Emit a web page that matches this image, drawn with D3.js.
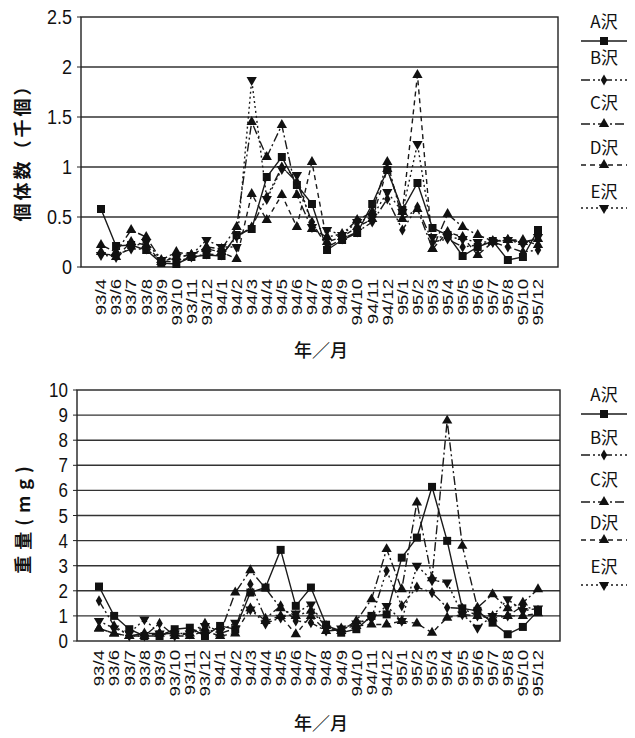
<!DOCTYPE html>
<html>
<head>
<meta charset="utf-8">
<script src="https://cdn.jsdelivr.net/npm/d3@7"></script>
<style>
  html, body { margin: 0; padding: 0; background: #fff; }
  svg { display: block; }
  text { font-family: "Liberation Sans", Arial, sans-serif; fill: #111; }
  .cjk { font-family: "Noto Sans CJK JP", "Noto Sans CJK SC", sans-serif; }
</style>
</head>
<body>
<svg id="chart" width="635" height="738"></svg>
<script>
// ---- data ----
const categories = ["93/4","93/6","93/7","93/8","93/9","93/10","93/11","93/12",
  "94/1","94/2","94/3","94/4","94/5","94/6","94/7","94/8","94/9","94/10","94/11","94/12",
  "95/1","95/2","95/3","95/4","95/5","95/6","95/7","95/8","95/10","95/12"];

const seriesNames = ["A沢","B沢","C沢","D沢","E沢"];

// 個体数 (千個)
const countA = [0.58,0.21,0.22,0.17,0.04,0.03,0.10,0.12,0.11,0.32,0.38,0.90,1.10,0.82,0.63,0.17,0.27,0.34,0.63,0.97,0.57,0.84,0.39,0.32,0.11,0.20,0.26,0.07,0.10,0.37];
const countB = [0.13,0.12,0.18,0.18,0.06,0.05,0.10,0.13,0.12,0.30,0.40,0.70,1.00,0.85,0.45,0.20,0.28,0.35,0.45,0.68,0.37,0.60,0.25,0.28,0.20,0.22,0.25,0.20,0.15,0.17];
const countC = [0.22,0.15,0.37,0.30,0.07,0.15,0.12,0.20,0.18,0.40,1.45,1.10,1.42,0.72,0.38,0.30,0.33,0.47,0.55,1.05,0.48,0.58,0.18,0.53,0.40,0.32,0.26,0.27,0.25,0.28];
const countD = [0.15,0.10,0.25,0.22,0.05,0.10,0.12,0.18,0.15,0.08,0.73,0.47,0.72,0.40,1.05,0.25,0.30,0.40,0.48,0.98,0.55,1.92,0.18,0.35,0.30,0.12,0.25,0.27,0.27,0.22];
const countE = [0.12,0.10,0.20,0.25,0.07,0.10,0.12,0.27,0.20,0.20,1.87,0.68,0.98,0.92,0.40,0.37,0.32,0.45,0.50,0.75,0.55,1.23,0.30,0.30,0.28,0.25,0.25,0.27,0.23,0.30];

// 重量 (mg)
const weightA = [2.17,1.00,0.47,0.20,0.20,0.47,0.53,0.20,0.60,0.47,1.93,2.13,3.63,1.40,2.13,0.65,0.33,0.47,1.00,1.06,3.32,4.12,6.14,3.99,1.30,1.20,0.73,0.27,0.56,1.20];
const weightB = [1.60,0.60,0.20,0.20,0.70,0.20,0.30,0.70,0.30,0.50,2.26,0.90,1.40,0.80,0.73,0.40,0.45,0.70,0.90,2.80,1.40,2.15,1.93,1.33,1.30,1.00,1.00,1.00,1.40,1.22];
const weightC = [0.50,0.30,0.20,0.30,0.30,0.30,0.30,0.50,0.30,1.93,2.82,2.10,1.30,1.00,1.20,0.60,0.40,0.80,1.66,3.66,2.06,5.52,2.50,8.78,3.79,1.33,1.86,1.30,1.53,2.06];
const weightD = [0.50,0.30,0.20,0.20,0.30,0.20,0.20,0.40,0.20,0.30,1.30,0.80,1.00,0.27,1.00,0.40,0.50,0.60,0.66,0.66,0.80,0.70,0.33,0.93,1.06,1.00,0.90,1.00,1.00,1.10];
const weightE = [0.80,0.50,0.30,0.86,0.30,0.30,0.30,0.60,0.40,0.73,1.26,0.70,0.93,1.10,1.46,0.50,0.50,0.70,0.90,1.40,0.80,3.00,2.42,2.33,1.06,0.53,1.00,1.66,1.20,1.30];

const countTicks = [0, 0.5, 1, 1.5, 2, 2.5];
const countTickLabels = ["0","0.5","1","1.5","2","2.5"];
const weightTicks = [0,1,2,3,4,5,6,7,8,9,10];
const weightTickLabels = ["0","1","2","3","4","5","6","7","8","9","10"];

// ---- styles per series ----
const styles = [
  { dash: null,             symbol: d3.symbolSquare,   size: 64, rot: 0 },
  { dash: "9,3,2,3,2,3",    symbol: d3.symbolDiamond,  size: 36, rot: 0 },
  { dash: "9,3,2,3",        symbol: d3.symbolTriangle, size: 46, rot: 0 },
  { dash: "5,4",            symbol: d3.symbolTriangle, size: 46, rot: 0 },
  { dash: "2,3",            symbol: d3.symbolTriangle, size: 46, rot: 180 }
];

const svg = d3.select("#chart");

function drawPanel(cfg) {
  const g = svg.append("g");
  const x = d3.scalePoint().domain(categories).range([cfg.x0 + cfg.pad, cfg.x1 - cfg.pad]);
  const y = d3.scaleLinear().domain([0, cfg.max]).range([cfg.y1, cfg.y0]);

  // gridlines
  g.selectAll(".grid").data(cfg.ticks.filter(t => t > 0 && t < cfg.max)).join("line")
    .attr("x1", cfg.x0).attr("x2", cfg.x1)
    .attr("y1", d => y(d)).attr("y2", d => y(d))
    .attr("stroke", "#333").attr("stroke-width", 1.4);

  // frame
  g.append("rect").attr("x", cfg.x0).attr("y", cfg.y0)
    .attr("width", cfg.x1 - cfg.x0).attr("height", cfg.y1 - cfg.y0)
    .attr("fill", "none").attr("stroke", "#222").attr("stroke-width", 1.4);

  // y ticks & labels
  g.selectAll(".ytick").data(cfg.ticks).join("line")
    .attr("x1", cfg.x0 - 4).attr("x2", cfg.x0)
    .attr("y1", d => y(d)).attr("y2", d => y(d))
    .attr("stroke", "#222");
  g.selectAll(".ylab").data(cfg.ticks).join("text")
    .attr("transform", d => `translate(${cfg.x0 - 9},${y(d)}) scale(1,1.15)`)
    .attr("dy", "0.36em")
    .attr("text-anchor", "end")
    .attr("font-size", cfg.tickFont)
    .text((d, i) => cfg.tickLabels[i]);

  // x labels (rotated)
  g.selectAll(".xlab").data(categories).join("text")
    .attr("transform", d => `translate(${x(d)},${cfg.labelTop}) rotate(-90) scale(1.33,1.05)`)
    .attr("dy", "0.36em")
    .attr("text-anchor", "end")
    .attr("font-size", 14)
    .text(d => d);

  // series
  const line = d3.line().x((d, i) => x(categories[i])).y(d => y(d));
  cfg.series.forEach((vals, si) => {
    const st = styles[si];
    g.append("path").datum(vals)
      .attr("d", line)
      .attr("fill", "none").attr("stroke", "#1a1a1a").attr("stroke-width", 1.4)
      .attr("stroke-dasharray", st.dash);
    g.selectAll(null).data(vals).join("path")
      .attr("d", d3.symbol().type(st.symbol).size(st.size))
      .attr("transform", (d, i) => `translate(${x(categories[i])},${y(d)}) rotate(${st.rot})`)
      .attr("fill", "#111");
  });

  // y title
  g.append("text").attr("class", "cjk")
    .attr("transform", `translate(${cfg.titleX},${cfg.titleY}) rotate(-90)`)
    .attr("text-anchor", "middle").attr("dy", "0.35em")
    .attr("font-size", 18).attr("font-weight", 700).attr("letter-spacing", cfg.titleSpacing)
    .text(cfg.title);

  // x title
  g.append("text").attr("class", "cjk")
    .attr("x", 321).attr("y", cfg.xTitleY)
    .attr("text-anchor", "middle").attr("font-size", 18).attr("font-weight", 500)
    .text("年／月");

  // legend
  cfg.legendY.forEach((ly, si) => {
    const st = styles[si];
    g.append("text").attr("class", "cjk")
      .attr("x", 604).attr("y", ly.text)
      .attr("text-anchor", "middle").attr("font-size", 17)
      .text(seriesNames[si]);
    g.append("line").attr("x1", 581).attr("x2", 627)
      .attr("y1", ly.line).attr("y2", ly.line)
      .attr("stroke", "#1a1a1a").attr("stroke-width", 1.6)
      .attr("stroke-dasharray", st.dash);
    g.append("path")
      .attr("d", d3.symbol().type(st.symbol).size(st.size))
      .attr("transform", `translate(604,${ly.line}) rotate(${st.rot})`)
      .attr("fill", "#111");
  });
}

drawPanel({
  x0: 81, x1: 558, y0: 17, y1: 267, pad: 20, max: 2.5,
  ticks: countTicks, tickLabels: countTickLabels, tickFont: 18,
  labelTop: 279,
  series: [countA, countB, countC, countD, countE],
  title: "個体数（千個）", titleX: 23, titleY: 148, titleSpacing: 3,
  xTitleY: 357,
  legendY: [{text:28,line:41},{text:64,line:80},{text:109,line:124},{text:154,line:165},{text:198,line:208}]
});

drawPanel({
  x0: 77, x1: 560, y0: 390, y1: 641, pad: 22, max: 10,
  ticks: weightTicks, tickLabels: weightTickLabels, tickFont: 17,
  labelTop: 650,
  series: [weightA, weightB, weightC, weightD, weightE],
  title: "重量(mg)", titleX: 24, titleY: 517, titleSpacing: 6,
  xTitleY: 730,
  legendY: [{text:401,line:414},{text:444,line:455},{text:486,line:502},{text:529,line:540},{text:573,line:585}]
});
</script>
</body>
</html>
